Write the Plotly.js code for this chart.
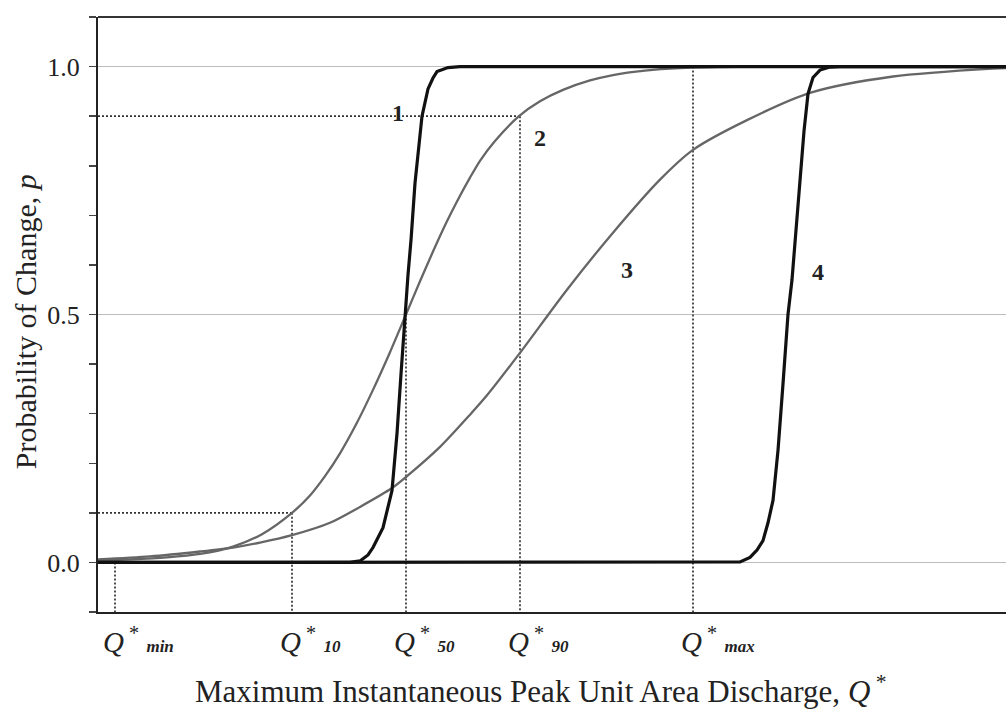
<!DOCTYPE html>
<html>
<head>
<meta charset="utf-8">
<script src="https://cdn.plot.ly/plotly-3.0.1.min.js"></script>
<style>html,body{margin:0;padding:0;overflow:hidden;background:#fff}</style>
</head>
<body>
<div id="chart" style="width:1006px;height:710px"></div>
<script>
// ---- data (x in arbitrary discharge units, p = probability of change) ----
const curve1X = [0, 25.2, 26.2, 27.0, 27.5, 28.5, 29.4, 29.9, 30.3, 30.7, 31.0, 31.3, 31.7, 32.4, 33.0, 33.5, 33.9, 35.0, 36.2, 90.8];
const curve1P = [0, 0.0, 0.003, 0.015, 0.03, 0.07, 0.145, 0.26, 0.38, 0.5, 0.58, 0.65, 0.765, 0.9, 0.955, 0.977, 0.99, 0.998, 1.0, 1.0];

const curve2X = [0, 3.2, 6.9, 10.2, 13.5, 16.4, 19.4, 21.2, 22.7, 24.2, 25.8, 27.5, 29.2, 30.8, 32.2, 33.5, 34.8, 35.9, 37.2, 38.2, 39.7, 42.1, 44.2, 46.5, 49.2, 51.5, 54.7, 58.2, 65.2, 90.8];
const curve2P = [0.004, 0.006, 0.01, 0.017, 0.032, 0.057, 0.1, 0.135, 0.174, 0.22, 0.278, 0.348, 0.424, 0.5, 0.567, 0.627, 0.684, 0.728, 0.776, 0.81, 0.85, 0.9, 0.93, 0.953, 0.972, 0.983, 0.992, 0.997, 1.0, 1.0];

const curve3X = [0, 5.2, 10.2, 13.5, 16.2, 19.4, 23.2, 26.2, 29.4, 30.9, 34.2, 37.2, 38.9, 42.1, 46.9, 51.5, 56.2, 59.5, 64.9, 71.2, 79.5, 89.5, 90.8];
const curve3P = [0.006, 0.012, 0.022, 0.03, 0.04, 0.055, 0.08, 0.112, 0.15, 0.174, 0.233, 0.298, 0.337, 0.42, 0.55, 0.665, 0.772, 0.832, 0.892, 0.947, 0.98, 0.996, 0.997];

const curve4X = [0, 63.2, 64.2, 65.2, 65.9, 66.5, 67.0, 67.5, 68.0, 68.5, 69.0, 69.4, 69.8, 70.2, 70.6, 71.0, 71.5, 72.2, 73.2, 74.2, 90.8];
const curve4P = [0, 0, 0.001, 0.01, 0.025, 0.044, 0.08, 0.125, 0.226, 0.36, 0.5, 0.57, 0.665, 0.765, 0.87, 0.945, 0.978, 0.993, 0.999, 1.0, 1.0];

// characteristic discharges of curve 2 and their probabilities
const qNames = ['min', '10', '50', '90', 'max'];
const qPos   = [1.7, 19.4, 30.8, 42.2, 59.5];
const qProb  = [0.0, 0.1, 0.5, 0.9, 1.0];

const curveLabels = ['1', '2', '3', '4'];
const yTickVals = [0, 0.5, 1.0];
const yTickText = ['0.0', '0.5', '1.0'];

// ---- build traces ----
const serif = 'Liberation Serif, Times New Roman, serif';
const X_MIN = 0, X_MAX = 90.8, Y_MIN = -0.1, Y_MAX = 1.1;

// dotted reference lines
const vx = [], vy = [], hx = [], hy = [];
qPos.forEach((q, i) => {
  vx.push(q, q, null); vy.push(qProb[i], Y_MIN - 0.008, null);
});
[1, 3].forEach(i => { hx.push(X_MIN, qPos[i], null); hy.push(qProb[i], qProb[i], null); });

const dotStyle = {color: '#333', width: 1.7, dash: '2px,2px'};
const traces = [
  {x: vx, y: vy, mode: 'lines', line: dotStyle, cliponaxis: false},
  {x: hx, y: hy, mode: 'lines', line: dotStyle},
  {x: curve2X, y: curve2P, mode: 'lines', line: {color: '#666', width: 2.3, shape: 'spline', smoothing: 0.8}},
  {x: curve3X, y: curve3P, mode: 'lines', line: {color: '#666', width: 2.3, shape: 'spline', smoothing: 0.8}},
  {x: curve1X, y: curve1P, mode: 'lines', line: {color: '#111', width: 3.2}},
  {x: curve4X, y: curve4P, mode: 'lines', line: {color: '#111', width: 3.2}}
];

const labelPos = [[30.0, 0.906], [44.2, 0.856], [52.9, 0.59], [72.0, 0.585]];
const annotations = curveLabels.map((t, i) => ({
  x: labelPos[i][0], y: labelPos[i][1], text: '<b>' + t + '</b>', showarrow: false,
  font: {family: serif, size: 24, color: '#222'}
}));

// x tick labels (Q*_name), Q centred on its dotted line
qNames.forEach((n, i) => annotations.push({
  x: qPos[i], xref: 'x', y: 0, yref: 'paper', xanchor: 'left', yanchor: 'top',
  xshift: -14, yshift: -8, showarrow: false,
  text: '<i>Q</i><sup> *</sup> <span style="font-size:17px"><i><b>' + n + '</b></i></span>',
  font: {family: serif, size: 29, color: '#222'}
}));

// x axis title
annotations.push({
  x: 0.488, xref: 'paper', y: 0, yref: 'paper', xanchor: 'center', yanchor: 'middle',
  yshift: -77, showarrow: false,
  text: 'Maximum Instantaneous Peak Unit Area Discharge, <i>Q</i><sup> *</sup>',
  font: {family: serif, size: 31, color: '#222'}
});

// y axis title
annotations.push({
  x: 0, xref: 'paper', y: 0.487, yref: 'paper', xanchor: 'center', yanchor: 'middle',
  xshift: -73, textangle: -90, showarrow: false,
  text: 'Probability of Change, <i>p</i>',
  font: {family: serif, size: 30, color: '#222'}
});

const layout = {
  width: 1006, height: 710,
  margin: {l: 98, r: 0, t: 17, b: 98},
  paper_bgcolor: '#fff', plot_bgcolor: '#fff',
  showlegend: false, hovermode: false,
  font: {family: serif, color: '#222'},
  xaxis: {
    range: [X_MIN, X_MAX], showgrid: false, zeroline: false,
    showline: true, linecolor: '#222', linewidth: 2,
    showticklabels: false, ticks: ''
  },
  yaxis: {
    range: [Y_MIN, Y_MAX], zeroline: false,
    showline: true, linecolor: '#222', linewidth: 2,
    tickmode: 'array', tickvals: yTickVals, ticktext: yTickText,
    ticks: 'outside', ticklen: 7, tickwidth: 1.5, tickcolor: '#444',
    ticklabelstandoff: 4,
    showgrid: true, gridcolor: '#bdbdbd', gridwidth: 1,
    minor: {tickmode: 'linear', tick0: 0, dtick: 0.1, ticks: 'outside', ticklen: 7,
            tickwidth: 1.5, tickcolor: '#444', showgrid: false},
    tickfont: {family: serif, size: 26, color: '#222'}
  },
  shapes: [{type: 'line', xref: 'paper', yref: 'paper', x0: 0, x1: 1, y0: 1, y1: 1,
            line: {color: '#333', width: 2}}],
  annotations: annotations
};

Plotly.newPlot('chart', traces, layout, {displayModeBar: false, staticPlot: true});
</script>
</body>
</html>
